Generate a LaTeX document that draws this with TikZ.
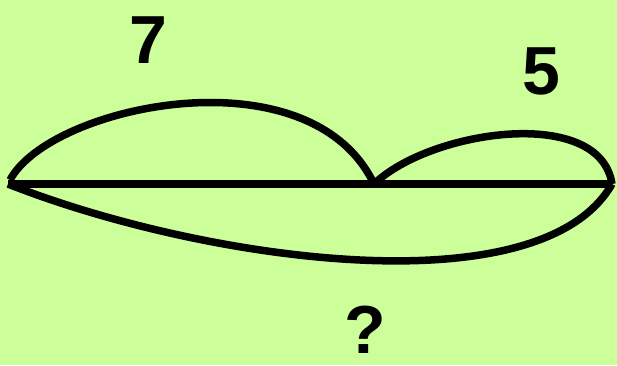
\documentclass[tikz,border=0pt]{standalone}
\usepackage{fontspec}
\setmainfont{Liberation Sans}
\definecolor{bggreen}{HTML}{CCFF99}

\begin{document}
\begin{tikzpicture}[
  x=1pt, y=-1pt,
  seg/.style={line width=7.5pt},
  num/.style={font=\fontsize{68}{68}\selectfont\bfseries, inner sep=0pt}
]
  % background and page size
  \fill[bggreen] (0,0) rectangle (617,365);
  \useasboundingbox (0,0) rectangle (617,365);

  \coordinate (L) at (8,184);
  \coordinate (M) at (374,184);
  \coordinate (R) at (612,184);

  \draw[seg] (L) -- (R);
  % arcs above
  \draw[seg] (10,180) .. controls (50,105) and (310,50) .. (M);
  \draw[seg] (M) .. controls (430,130) and (600,105) .. (R);
  % arc below
  \draw[seg] (L) .. controls (200,260) and (540,310) .. (R);

  \node[num] (seven) at (148,40) {7};
  \node[num] (five) at (541,71) {5};
  \node[num] (ques) at (365,330) {?};
\end{tikzpicture}
\end{document}
